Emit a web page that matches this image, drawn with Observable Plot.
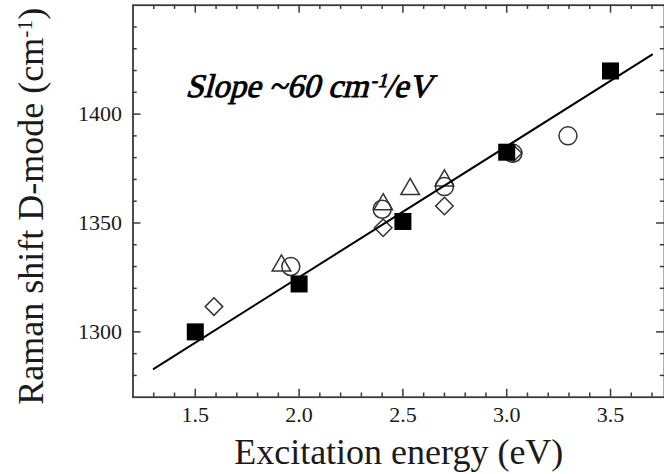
<!DOCTYPE html>
<html><head><meta charset="utf-8">
<script src="https://cdn.jsdelivr.net/npm/d3@7"></script>
<script src="https://cdn.jsdelivr.net/npm/@observablehq/plot@0.6"></script>
<style>html,body{margin:0;padding:0;background:#fff;overflow:hidden}</style>
</head><body><div id="chart"></div>
<script>
// ---- data ----
const squareX = [1.5, 2.0, 2.5, 3.0, 3.5];
const squareY = [1300, 1322, 1350.7, 1382.5, 1419.8];
const circleX = [1.96, 2.40, 2.70, 3.03, 3.295];
const circleY = [1330, 1356.3, 1366.7, 1382, 1390];
const triangleX = [1.915, 2.405, 2.535, 2.70];
const triangleY = [1330.4, 1358.5, 1365.5, 1369.5];
const diamondX = [1.59, 2.405, 2.70, 3.03];
const diamondY = [1311.6, 1347.8, 1357.8, 1382];
const fitX = [1.3, 3.7];
const fitY = [1283, 1427.3];

const xTicksMajor = [1.5, 2.0, 2.5, 3.0, 3.5];
const xTicksMinor = [1.3, 1.4, 1.6, 1.7, 1.8, 1.9, 2.1, 2.2, 2.3, 2.4, 2.6, 2.7, 2.8, 2.9, 3.1, 3.2, 3.3, 3.4, 3.6, 3.7];
const yTicksMajor = [1300, 1350, 1400];
const yTicksMinor = [1280, 1290, 1310, 1320, 1330, 1340, 1360, 1370, 1380, 1390, 1410, 1420, 1430, 1440];
const xTitle = ["Excitation energy (eV)"];
const yTitle = ["Raman shift D-mode (cm⁻¹)"];
const note = ["Slope ~60 cm⁻¹/eV"];

const pts = (xs, ys) => xs.map((x, i) => ({x, y: ys[i]}));

// ---- layout ----
const W = 664, H = 474, mT = 4.7, mB = 77.3, mL = 132.5, mR = 0;
const plotW = W - mL - mR, plotH = H - mT - mB;
const ink = "#1a1a1a", axisInk = "#3a3a3a", mk = "#333";
const major = 8, minor = 4.2;
const serif = "'Liberation Serif', 'Times New Roman', serif";

const chart = Plot.plot({
  width: W, height: H,
  marginTop: mT, marginBottom: mB, marginLeft: mL, marginRight: mR,
  style: {fontFamily: serif, fontSize: "22px", color: ink, background: "#fff"},
  x: {domain: [1.2, 3.76]},
  y: {domain: [1270, 1450]},
  marks: [
    // inward ticks, bottom & top
    Plot.tickX(xTicksMajor, {x: d => d, insetTop: plotH - major, stroke: axisInk, strokeWidth: 1.5}),
    Plot.tickX(xTicksMinor, {x: d => d, insetTop: plotH - minor, stroke: axisInk, strokeWidth: 1.5}),
    Plot.tickX(xTicksMajor, {x: d => d, insetBottom: plotH - major, stroke: axisInk, strokeWidth: 1.5}),
    Plot.tickX(xTicksMinor, {x: d => d, insetBottom: plotH - minor, stroke: axisInk, strokeWidth: 1.5}),
    // inward ticks, left & right
    Plot.tickY(yTicksMajor, {y: d => d, insetRight: plotW - major, stroke: axisInk, strokeWidth: 1.5}),
    Plot.tickY(yTicksMinor, {y: d => d, insetRight: plotW - minor, stroke: axisInk, strokeWidth: 1.5}),
    Plot.tickY(yTicksMajor, {y: d => d, insetLeft: plotW - major, stroke: axisInk, strokeWidth: 1.5}),
    Plot.tickY(yTicksMinor, {y: d => d, insetLeft: plotW - minor, stroke: axisInk, strokeWidth: 1.5}),
    Plot.axisX(xTicksMajor, {tickSize: 0, tickPadding: 9.4, tickFormat: d3.format(".1f"), label: null, fill: ink}),
    Plot.axisY(yTicksMajor, {tickSize: 0, tickPadding: 11, tickFormat: d => String(d), label: null, fill: ink}),
    Plot.frame({stroke: axisInk, strokeWidth: 1.8}),
    // open markers
    Plot.dot(pts(diamondX, diamondY), {x: "x", y: "y", symbol: "diamond2", r: 7.9, fill: "none", stroke: mk, strokeWidth: 1.5}),
    Plot.dot(pts(triangleX, triangleY), {x: "x", y: "y", symbol: "triangle", r: 6.9, fill: "none", stroke: mk, strokeWidth: 1.5}),
    Plot.dot(pts(circleX, circleY), {x: "x", y: "y", symbol: "circle", r: 9, fill: "none", stroke: mk, strokeWidth: 1.5}),
    // fit line
    Plot.line(pts(fitX, fitY), {x: "x", y: "y", stroke: "#000", strokeWidth: 2}),
    // filled squares
    Plot.dot(pts(squareX, squareY), {x: "x", y: "y", symbol: "square", r: 9.6, fill: "#000", stroke: "none"}),
    // titles & annotation
    Plot.text(xTitle, {frameAnchor: "bottom", dy: 55, fontSize: 36, lineAnchor: "middle", textAnchor: "middle", fill: ink}),
    Plot.text(yTitle, {frameAnchor: "left", rotate: -90, dx: -102, dy: 5, fontSize: 36, lineAnchor: "middle", textAnchor: "middle", fill: ink}),
    Plot.text(note, {frameAnchor: "top-left", dx: 55, dy: 81, fontSize: 33, fontFamily: "Liberation Serif", fontStyle: "normal", fontWeight: "normal", stroke: "#000", strokeWidth: 0.9, lineAnchor: "middle", textAnchor: "start", fill: "#000"})
  ]
});

// superscripts and oblique annotation
d3.select(chart).selectAll("text").each(function () {
  const s = this.textContent;
  if (s.startsWith("Slope")) {
    const t = this.getAttribute("transform") || "";
    this.setAttribute("transform", t + " skewX(-15)");
  }
  if (!s.includes("⁻¹")) return;
  const [a, b] = s.split("⁻¹");
  const sel = d3.select(this);
  sel.text(null);
  sel.append("tspan").text(a);
  sel.append("tspan").attr("dy", "-0.5em").attr("font-size", "0.6em").text("-1");
  sel.append("tspan").attr("dy", "0.3em").text(b);
});

document.getElementById("chart").appendChild(chart);
</script>
</body></html>
